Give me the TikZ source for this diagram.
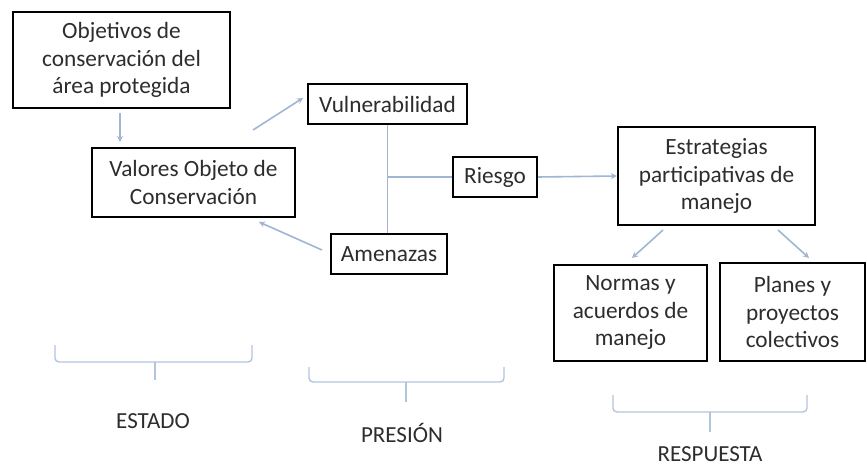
\documentclass[tikz,border=0pt]{standalone}
\usepackage{fontspec}
\setmainfont{Carlito}
\usetikzlibrary{arrows.meta}
\definecolor{conn}{RGB}{160,182,212}
\definecolor{txt}{RGB}{45,45,45}
\tikzset{
  box/.style={draw=black, line width=2.2pt, align=center, text=txt, inner sep=0pt,
    font=\fontsize{23.3}{27.5}\selectfont},
  link/.style={draw=conn, line width=1.6pt},
  arr/.style={link, -{Stealth[length=6pt,width=6pt]}},
  brace/.style={draw=conn!80, line width=1.4pt, rounded corners=4pt},
  lab/.style={text=txt, font=\fontsize{23}{27}\selectfont, anchor=base, inner sep=0pt}
}
\begin{document}
\begin{tikzpicture}[x=1pt,y=-1pt]
\useasboundingbox (0,0) rectangle (867,470);
\fill[white] (0,0) rectangle (867,470);
% boxes
\node[box, minimum width=217pt, minimum height=96pt] (obj) at (121.5,60) {Objetivos de\\conservación del\\área protegida};
\node[box, minimum width=203pt, minimum height=69pt] (val) at (193.5,182.5) {Valores Objeto de\\Conservación};
\node[box, minimum width=159pt, minimum height=40pt] (vul) at (387.5,104) {Vulnerabilidad};
\node[box, minimum width=84pt, minimum height=40pt] (rie) at (495,177) {Riesgo};
\node[box, minimum width=116pt, minimum height=40pt] (ame) at (389,254) {Amenazas};
\node[box, minimum width=197pt, minimum height=98pt] (est) at (716.5,176) {Estrategias\\participativas de\\manejo};
\node[box, minimum width=153pt, minimum height=96pt] (nor) at (630.5,313) {Normas y\\acuerdos de\\manejo};
\node[box, minimum width=145pt, minimum height=98pt] (pla) at (792.5,312) {Planes y\\proyectos\\colectivos};
% connector endpoints
\coordinate (v1) at (253,130);
\coordinate (v2) at (303,98);
\coordinate (a1) at (322,250);
\coordinate (a2) at (259,222);
\coordinate (e1) at (663,230);
\coordinate (e2) at (632,258);
\coordinate (e3) at (778,230);
\coordinate (e4) at (809,258);
% connectors
\draw[arr, shorten <=4pt, shorten >=5pt] ([xshift=-1.5pt]obj.south) -- ([xshift=-1.5pt]obj.south |- val.north);
\draw[arr] (v1) -- (v2);
\draw[arr] (a1) -- (a2);
\draw[link] (vul.south) -- (vul.south |- ame.north);
\draw[link] (vul.south |- rie.west) -- (rie.west);
\draw[arr] (rie.east) -- (est.west);
\draw[arr] (e1) -- (e2);
\draw[arr] (e3) -- (e4);
% braces
\draw[brace] (55,345) -- (55,362) -- (252,362) -- (252,345);
\draw[brace] (155,362) -- (155,380);
\draw[brace] (309,367) -- (309,382) -- (504,382) -- (504,367);
\draw[brace] (406,382) -- (406,402);
\draw[brace] (613,395) -- (613,412) -- (807,412) -- (807,395);
\draw[brace] (710,412) -- (710,432);
% labels
\node[lab] (estado) at (153,428) {ESTADO};
\node[lab] (presion) at (402,442) {PRESIÓN};
\node[lab] (resp) at (710,461) {RESPUESTA};
\end{tikzpicture}
\end{document}
